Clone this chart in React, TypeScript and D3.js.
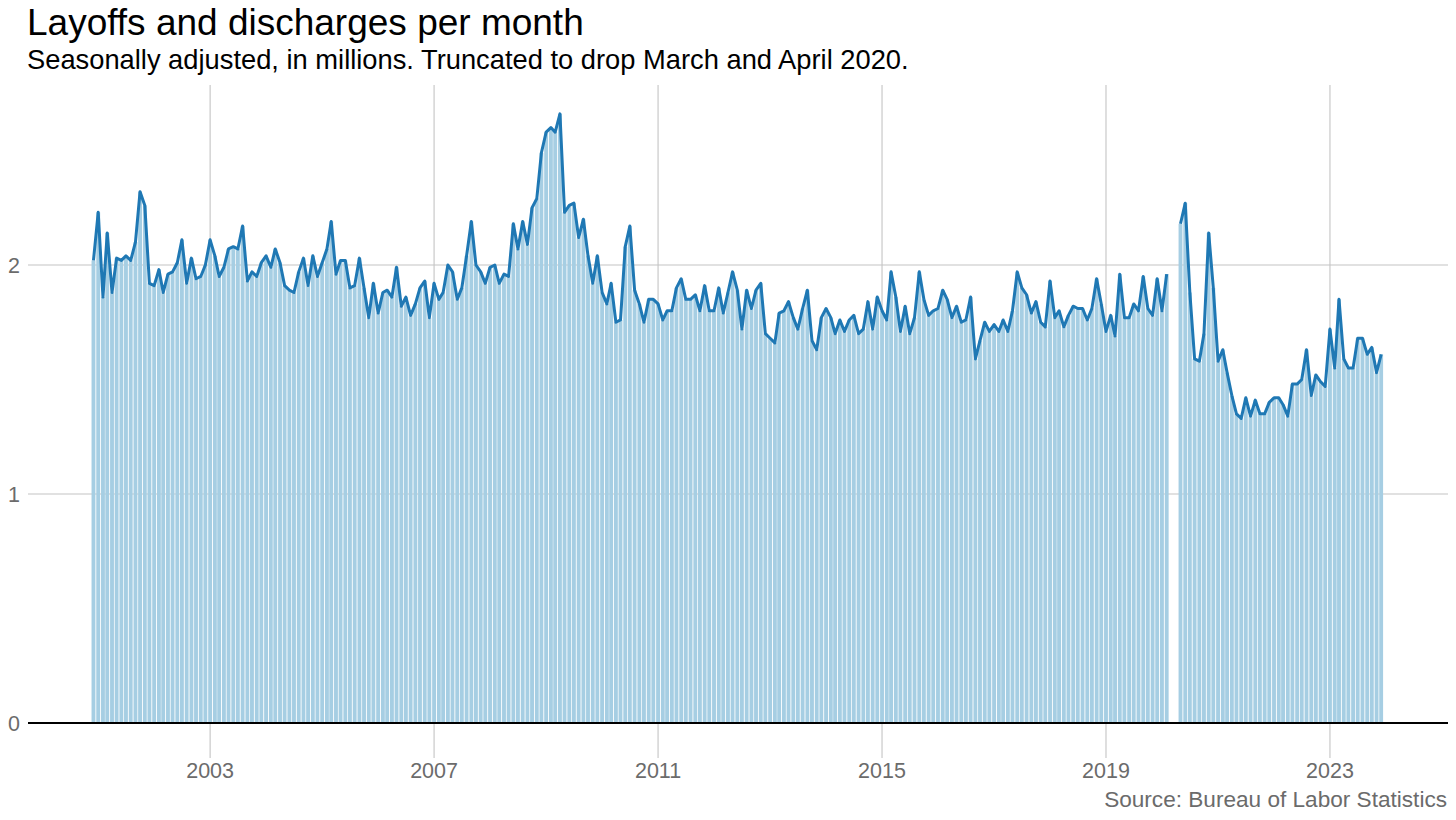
import React from 'react'
import * as d3 from 'd3'

// Layoffs and discharges, millions, seasonally adjusted. Monthly from Dec 2000.
// Mar and Apr 2020 are dropped (null).
const startYear = 2000
const startMonth = 11 // December (0-based)

const layoffs: (number | null)[] = [
  2.02, // 2000 Dec
  2.23, 1.86, 2.14, 1.88, 2.03, 2.02, 2.04, 2.02, 2.10, 2.32, 2.26, 1.92, // 2001
  1.91, 1.98, 1.88, 1.96, 1.97, 2.01, 2.11, 1.92, 2.03, 1.94, 1.95, 2.00, // 2002
  2.11, 2.04, 1.95, 1.99, 2.07, 2.08, 2.07, 2.17, 1.93, 1.97, 1.95, 2.01, // 2003
  2.04, 1.99, 2.07, 2.01, 1.91, 1.89, 1.88, 1.97, 2.03, 1.91, 2.04, 1.95, // 2004
  2.01, 2.07, 2.19, 1.96, 2.02, 2.02, 1.90, 1.91, 2.03, 1.90, 1.77, 1.92, // 2005
  1.79, 1.88, 1.89, 1.86, 1.99, 1.82, 1.86, 1.78, 1.83, 1.90, 1.93, 1.77, // 2006
  1.92, 1.85, 1.88, 2.00, 1.97, 1.85, 1.90, 2.04, 2.19, 2.00, 1.97, 1.92, // 2007
  1.99, 2.00, 1.92, 1.96, 1.95, 2.18, 2.07, 2.19, 2.09, 2.25, 2.29, 2.49, // 2008
  2.58, 2.60, 2.58, 2.66, 2.23, 2.26, 2.27, 2.12, 2.20, 2.04, 1.92, 2.04, // 2009
  1.88, 1.83, 1.92, 1.75, 1.76, 2.08, 2.17, 1.89, 1.83, 1.75, 1.85, 1.85, // 2010
  1.83, 1.76, 1.80, 1.80, 1.90, 1.94, 1.85, 1.85, 1.87, 1.80, 1.91, 1.80, // 2011
  1.80, 1.90, 1.79, 1.88, 1.97, 1.89, 1.72, 1.89, 1.81, 1.89, 1.92, 1.70, // 2012
  1.68, 1.66, 1.79, 1.80, 1.84, 1.77, 1.72, 1.81, 1.89, 1.67, 1.63, 1.77, // 2013
  1.81, 1.77, 1.70, 1.76, 1.71, 1.76, 1.78, 1.70, 1.72, 1.84, 1.72, 1.86, // 2014
  1.80, 1.76, 1.97, 1.86, 1.71, 1.82, 1.70, 1.77, 1.97, 1.85, 1.78, 1.80, // 2015
  1.81, 1.89, 1.85, 1.77, 1.82, 1.75, 1.76, 1.86, 1.59, 1.67, 1.75, 1.71, // 2016
  1.74, 1.71, 1.76, 1.71, 1.80, 1.97, 1.90, 1.87, 1.79, 1.84, 1.75, 1.73, // 2017
  1.93, 1.77, 1.80, 1.73, 1.78, 1.82, 1.81, 1.81, 1.76, 1.81, 1.94, 1.83, // 2018
  1.71, 1.78, 1.69, 1.96, 1.77, 1.77, 1.83, 1.80, 1.95, 1.81, 1.78, 1.94, // 2019
  1.80, 1.96, null, null, 2.18, 2.27, 1.88, 1.59, 1.58, 1.70, 2.14, 1.90, // 2020
  1.58, 1.63, 1.53, 1.43, 1.35, 1.33, 1.42, 1.34, 1.41, 1.35, 1.35, 1.40, // 2021
  1.42, 1.42, 1.39, 1.34, 1.48, 1.48, 1.50, 1.63, 1.43, 1.52, 1.49, 1.47, // 2022
  1.72, 1.55, 1.85, 1.59, 1.55, 1.55, 1.68, 1.68, 1.61, 1.64, 1.53, 1.61, // 2023
]

const yearTicks = [2003, 2007, 2011, 2015, 2019, 2023]
const valueTicks = [0, 1, 2]

const title = 'Layoffs and discharges per month'
const subtitle = 'Seasonally adjusted, in millions. Truncated to drop March and April 2020.'
const source = 'Source: Bureau of Labor Statistics'

const W = 1456
const H = 820
const font = '"Liberation Sans", Arial, Helvetica, sans-serif'

type Point = { date: Date; value: number | null }

const points: Point[] = layoffs.map((value, i) => ({
  date: new Date(startYear, startMonth + i, 1),
  value,
}))

export default function App() {
  const left = 28
  const right = 1448
  const top = 85
  const bottom = 723

  const x = d3.scaleTime()
    .domain([new Date(1999, 9, 1), new Date(2025, 1, 9)])
    .range([left, right])

  const y = d3.scaleLinear()
    .domain([0, 2.786])
    .range([bottom, top])

  // geom_col style width: 90% of the smallest month gap (28 days)
  const halfBar = 0.9 * 28 * 24 * 3600 * 1000 / 2

  const line = d3.line<Point>()
    .defined(d => d.value != null)
    .x(d => x(d.date))
    .y(d => y(d.value as number))

  const bars = points.filter(d => d.value != null)

  return (
    <svg width={W} height={H} style={{ position: 'absolute', left: 0, top: 0, background: '#fff' }}>
      <text x={27} y={34.5} fontFamily={font} fontSize={37} fill="#000">{title}</text>
      <text x={27} y={69} fontFamily={font} fontSize={27.3} fill="#000">{subtitle}</text>

      {/* grid */}
      {valueTicks.filter(v => v > 0).map(v => (
        <line key={v} x1={left} x2={right} y1={y(v)} y2={y(v)} stroke="#c4c4c4" strokeWidth={1.1} />
      ))}
      {yearTicks.map(t => (
        <line key={t} x1={x(new Date(t, 0, 1))} x2={x(new Date(t, 0, 1))} y1={top} y2={758}
          stroke="#c4c4c4" strokeWidth={1.1} />
      ))}

      {/* bars */}
      {bars.map((d, i) => {
        const x0 = x(new Date(d.date.getTime() - halfBar))
        const x1 = x(new Date(d.date.getTime() + halfBar))
        return (
          <rect key={i} x={x0} width={x1 - x0} y={y(d.value as number)}
            height={y(0) - y(d.value as number)} fill="#a6cee3" />
        )
      })}

      {/* line */}
      <path d={line(points) ?? ''} fill="none" stroke="#1f78b4" strokeWidth={3} strokeLinejoin="round" />

      {/* zero line */}
      <line x1={left} x2={right} y1={y(0)} y2={y(0)} stroke="#000" strokeWidth={1.8} />

      {/* axis labels */}
      {valueTicks.map(v => (
        <text key={v} x={20} y={y(v)} dy="0.36em" textAnchor="end" fontFamily={font} fontSize={21.5} fill="#6b6b6b">
          {v}
        </text>
      ))}
      {yearTicks.map(t => (
        <text key={t} x={x(new Date(t, 0, 1))} y={778} textAnchor="middle" fontFamily={font} fontSize={21.5} fill="#6b6b6b">
          {t}
        </text>
      ))}

      <text x={1447} y={807} textAnchor="end" fontFamily={font} fontSize={22.6} fill="#6b6b6b">{source}</text>
    </svg>
  )
}
